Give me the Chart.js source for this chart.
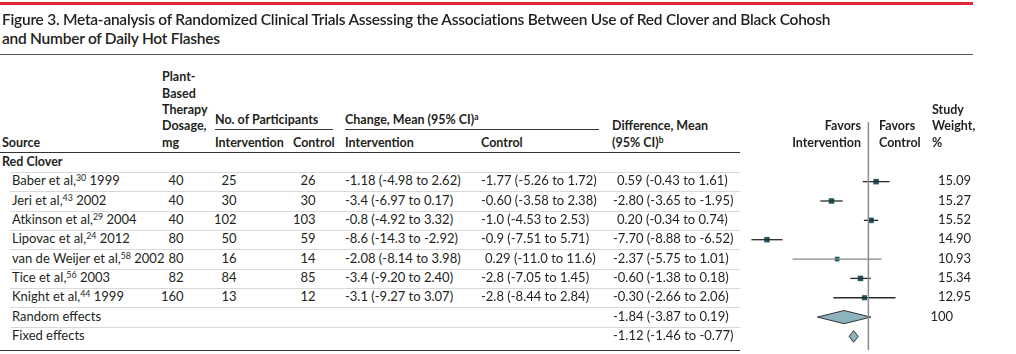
<!DOCTYPE html>
<html>
<head>
<meta charset="utf-8">
<script src="https://cdn.jsdelivr.net/npm/chart.js@4.4.1/dist/chart.umd.min.js"></script>
<style>
  body { margin: 0; background: #fff; }
  #page { position: relative; width: 1016px; height: 354px; overflow: hidden; font-family: Lato, "Noto Sans", sans-serif; color: #231f20; }
  .t { position: absolute; white-space: nowrap; }
  .b { font-weight: bold; }
  .rule { position: absolute; }
  sup { font-size: 0.68em; vertical-align: 0.45em; line-height: 0; }
  .wint { display: inline-block; width: 30px; text-align: right; }
  #forest { position: absolute; left: 744px; top: 0; }
</style>
</head>
<body>
<div id="page">
  <canvas id="forest" width="190" height="354"></canvas>
</div>
<script>
// Study data (Red Clover)
const sources = ['Baber et al,', 'Jeri et al,', 'Atkinson et al,', 'Lipovac et al,', 'van de Weijer et al,', 'Tice et al,', 'Knight et al,'];
const refs = [30, 43, 29, 24, 58, 56, 44];
const years = [1999, 2002, 2004, 2012, 2002, 2003, 1999];
const dosage = [40, 40, 40, 80, 80, 82, 160];
const nIntervention = [25, 30, 102, 50, 16, 84, 13];
const nControl = [26, 30, 103, 59, 14, 85, 12];
const changeIntervention = ['-1.18 (-4.98 to 2.62)', '-3.4 (-6.97 to 0.17)', '-0.8 (-4.92 to 3.32)', '-8.6 (-14.3 to -2.92)', '-2.08 (-8.14 to 3.98)', '-3.4 (-9.20 to 2.40)', '-3.1 (-9.27 to 3.07)'];
const changeControl = ['-1.77 (-5.26 to 1.72)', '-0.60 (-3.58 to 2.38)', '-1.0 (-4.53 to 2.53)', '-0.9 (-7.51 to 5.71)', '0.29 (-11.0 to 11.6)', '-2.8 (-7.05 to 1.45)', '-2.8 (-8.44 to 2.84)'];
const diffMean = [0.59, -2.80, 0.20, -7.70, -2.37, -0.60, -0.30];
const diffLow = [-0.43, -3.65, -0.34, -8.88, -5.75, -1.38, -2.66];
const diffHigh = [1.61, -1.95, 0.74, -6.52, 1.01, 0.18, 2.06];
const weights = [15.09, 15.27, 15.52, 14.90, 10.93, 15.34, 12.95];

// Pooled estimates
const pooledLabels = ['Random effects', 'Fixed effects'];
const pooledMean = [-1.84, -1.12];
const pooledLow = [-3.87, -1.46];
const pooledHigh = [0.19, -0.77];
const pooledWeight = ['100', ''];

const page = document.getElementById('page');
const fmt = v => v.toFixed(2);

function put(html, x, base, o = {}) {
    const fs = o.size || 12.5;
    const el = document.createElement('div');
    el.className = 't' + (o.bold ? ' b' : '');
    el.style.fontSize = fs + 'px';
    el.style.lineHeight = (fs * 1.2) + 'px';
    el.style.top = (base - fs * 0.987) + 'px';
    el.style.left = x + 'px';
    if (o.weight) el.style.fontWeight = o.weight;
    if (o.spacing) el.style.letterSpacing = o.spacing + 'px';
    if (o.right) el.style.transform = 'translateX(-100%)';
    if (o.indent) el.style.paddingLeft = '0.3em';
    el.innerHTML = html;
    page.appendChild(el);
    return el;
}

function rule(x, y, w, h, color) {
    const el = document.createElement('div');
    el.className = 'rule';
    Object.assign(el.style, { left: x + 'px', top: y + 'px', width: w + 'px', height: h + 'px', background: color });
    page.appendChild(el);
}

// Forest plot
const studyRows = sources.map((s, i) => i);
const pooledRows = pooledLabels.map((s, i) => sources.length + i);

const ciDatasets = studyRows.map(i => ({
    data: [{ x: diffLow[i], y: i }, { x: diffHigh[i], y: i }],
    showLine: true,
    borderColor: i === 4 ? '#8a8a8a' : '#2a2a2a',
    borderWidth: 1.3,
    pointRadius: 0
}));

const diamondDatasets = pooledRows.map((r, k) => {
    const h = k === 0 ? 0.34 : 0.3;
    return {
        data: [
            { x: pooledLow[k], y: r }, { x: pooledMean[k], y: r - h },
            { x: pooledHigh[k], y: r }, { x: pooledMean[k], y: r + h },
            { x: pooledLow[k], y: r }
        ],
        showLine: true,
        fill: 'shape',
        tension: 0,
        borderColor: '#333',
        borderWidth: 1,
        backgroundColor: '#8db3bf',
        pointRadius: 0
    };
});

const chart = new Chart(document.getElementById('forest'), {
    type: 'scatter',
    data: {
        datasets: [
            {
                data: [{ x: 0, y: -3.07 }, { x: 0, y: 9 }],
                showLine: true,
                borderColor: '#8c8c8c',
                borderWidth: 1.5,
                pointRadius: 0
            },
            ...ciDatasets,
            {
                data: studyRows.map(i => ({ x: diffMean[i], y: i })),
                pointStyle: 'rect',
                pointRadius: weights.map(w => Math.sqrt(w)),
                backgroundColor: '#1d5a66',
                borderWidth: 0
            },
            ...diamondDatasets
        ]
    },
    options: {
        responsive: false,
        animation: false,
        layout: { padding: 0 },
        plugins: { legend: { display: false }, tooltip: { enabled: false } },
        scales: {
            x: { type: 'linear', min: -9.14, max: 4.68, display: false },
            y: { type: 'linear', min: -9.18, max: 8.70, reverse: true, display: false }
        }
    }
});

// Title and rules
rule(0, 2, 973, 3, '#dc2a38');
put('Figure 3. Meta-analysis of Randomized Clinical Trials Assessing the Associations Between Use of Red Clover and Black Cohosh', 2, 25, { size: 15.5, weight: 600, spacing: -0.25 });
put('and Number of Daily Hot Flashes', 2, 44.5, { size: 15.5, weight: 600, spacing: -0.25 });
rule(0, 53.5, 973, 1.5, '#555');

// Column headers
const hs = 12.5;
put('Source', 2, 147, { bold: true, size: hs });
['Plant-', 'Based', 'Therapy', 'Dosage,', 'mg'].forEach((s, i) => put(s, 162, 81.5 + i * 16.4, { bold: true, size: hs }));
put('No. of Participants', 215, 124.5, { bold: true, size: hs });
rule(215, 128.5, 118, 1, '#333');
put('Intervention', 215, 147, { bold: true, size: hs });
put('Control', 293, 147, { bold: true, size: hs });
put('Change, Mean (95% CI)<sup>a</sup>', 345, 124.5, { bold: true, size: hs });
rule(345, 128.5, 254, 1, '#333');
put('Intervention', 345, 147, { bold: true, size: hs });
put('Control', 481, 147, { bold: true, size: hs });
put('Difference, Mean', 612, 130.5, { bold: true, size: hs });
put('(95% CI)<sup>b</sup>', 612, 147, { bold: true, size: hs });
put('Favors', 861, 130.5, { bold: true, size: hs, right: true });
put('Intervention', 861, 147, { bold: true, size: hs, right: true });
put('Favors', 879, 130.5, { bold: true, size: hs });
put('Control', 879, 147, { bold: true, size: hs });
put('Study', 932, 114, { bold: true, size: hs });
put('Weight,', 932, 130.5, { bold: true, size: hs });
put('%', 932, 147, { bold: true, size: hs });
rule(0, 151.5, 740, 1.5, '#333');

// Table body, rows follow the chart's y scale
const yAt = r => chart.scales.y.getPixelForValue(r);
const bs = 13;
const off = 4.5;
const weightText = w => {
    const [a, b] = String(w).split('.');
    return '<span class="wint">' + a + '</span>' + (b ? '.' + b : '');
};

put('Red Clover', 2, yAt(-1) + off, { bold: true, size: hs });
studyRows.forEach(i => {
    const y = yAt(i) + off;
    put(sources[i] + '<sup>' + refs[i] + '</sup> ' + years[i], 12, y, { size: bs });
    put(String(dosage[i]), 183.5, y, { size: bs, right: true });
    put(String(nIntervention[i]), 236.5, y, { size: bs, right: true });
    put(String(nControl[i]), 315.5, y, { size: bs, right: true });
    put(changeIntervention[i], 345, y, { size: bs, indent: !changeIntervention[i].startsWith('-') });
    put(changeControl[i], 481, y, { size: bs, indent: !changeControl[i].startsWith('-') });
    put(fmt(diffMean[i]) + ' (' + fmt(diffLow[i]) + ' to ' + fmt(diffHigh[i]) + ')', 613, y, { size: bs, indent: diffMean[i] >= 0 });
    put(weightText(weights[i].toFixed(2)), 923, y, { size: bs });
});
pooledRows.forEach((r, k) => {
    const y = yAt(r) + off;
    put(pooledLabels[k], 12, y, { size: bs });
    put(fmt(pooledMean[k]) + ' (' + fmt(pooledLow[k]) + ' to ' + fmt(pooledHigh[k]) + ')', 613, y, { size: bs, indent: pooledMean[k] >= 0 });
    if (pooledWeight[k]) put(weightText(pooledWeight[k]), 923, y, { size: bs });
});

// Row separators
for (let r = -1; r < sources.length + pooledLabels.length - 1; r++) {
    rule(10, Math.round((yAt(r) + yAt(r + 1)) / 2) - 0.5, 730, 1, '#d9d9d9');
}
rule(0, 349.5, 740, 1.5, '#333');
</script>
</body>
</html>
